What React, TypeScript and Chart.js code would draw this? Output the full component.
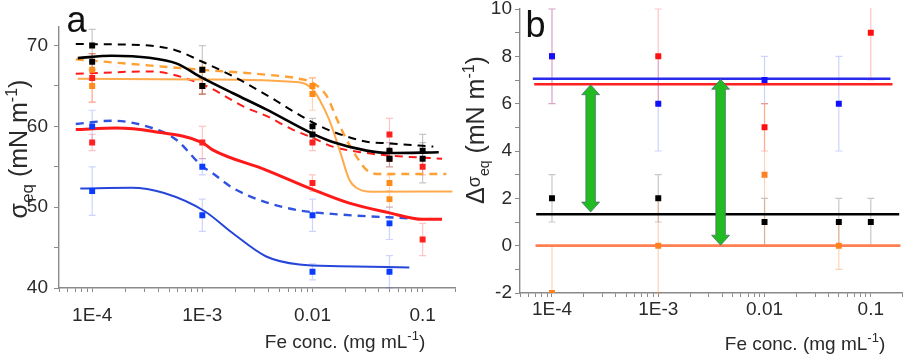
import React, { useEffect, useRef } from 'react';
import { Chart, registerables } from 'chart.js';

Chart.register(...registerables);

const FONT = '"Liberation Sans", Arial, Helvetica, sans-serif';
Chart.defaults.font.family = FONT;

// ---------- shared x axis ----------
const xMin = 5e-5;
const xMax = 0.2;
const xMajorTicks = [1e-4, 1e-3, 1e-2, 1e-1];
const xTickLabels = ['1E-4', '1E-3', '0.01', '0.1'];
const concentrations = [1e-4, 1e-3, 0.01, 0.05, 0.1];

// ---------- panel a: fitted curves [x, y] ----------
const blackSolidCurve: [number, number][] = [
  [7.4e-5, 68.45], [1.5e-4, 68.75], [3.3e-4, 68.5], [5.8e-4, 67.8], [1e-3, 66.0],
  [1.9e-3, 64.1], [3.8e-3, 62.1], [0.01, 59.1], [0.015, 58.1], [0.031, 57.0],
  [0.049, 56.7], [0.14, 56.8],
];
const blackDashedCurve: [number, number][] = [
  [7.1e-5, 70.2], [3.3e-4, 70.0], [5.8e-4, 69.4], [1e-3, 68.0], [1.9e-3, 66.2],
  [3.8e-3, 63.9], [0.01, 60.5], [0.015, 59.4], [0.031, 58.1], [0.049, 57.9], [0.125, 57.5],
];
const orangeSolidCurve: [number, number][] = [
  [7.4e-5, 65.9], [1e-3, 65.8], [7.6e-3, 65.45], [0.01, 64.6], [0.0116, 63.3],
  [0.0142, 60.8], [0.0176, 57.1], [0.0216, 53.4], [0.025, 52.4], [0.035, 51.9], [0.186, 51.95],
];
const orangeDashedCurve: [number, number][] = [
  [7.1e-5, 68.3], [1e-3, 67.0], [3.8e-3, 66.4], [7.6e-3, 65.9], [0.01, 65.4],
  [0.0134, 63.8], [0.0168, 60.8], [0.0203, 58.4], [0.025, 56.3], [0.031, 54.6],
  [0.0405, 54.1], [0.164, 54.1],
];
const redSolidCurve: [number, number][] = [
  [7.1e-5, 59.6], [1.66e-4, 59.8], [3.5e-4, 59.4], [1e-3, 58.0], [1.24e-3, 57.1],
  [3.8e-3, 54.6], [0.01, 52.2], [0.0216, 50.5], [0.05, 49.3], [0.1, 48.5], [0.15, 48.5],
];
const redDashedCurve: [number, number][] = [
  [7.1e-5, 66.5], [3.3e-4, 66.8], [1e-3, 65.2], [2.5e-3, 62.3], [3.8e-3, 61.3],
  [6.6e-3, 59.6], [0.01, 58.6], [0.0152, 57.5], [0.031, 56.7], [0.049, 56.4], [0.15, 56.0],
];
const blueSolidCurve: [number, number][] = [
  [7.8e-5, 52.3], [2.26e-4, 52.4], [4.5e-4, 51.75], [1.05e-3, 49.5], [1.88e-3, 46.8],
  [3.8e-3, 43.9], [7.6e-3, 42.9], [0.0176, 42.7], [0.0757, 42.55],
];
const blueDashedCurve: [number, number][] = [
  [7.1e-5, 60.3], [1.53e-4, 60.7], [3.5e-4, 59.8], [5.8e-4, 58.35], [1e-3, 55.05],
  [1.24e-3, 54.2], [1.88e-3, 52.4], [3.8e-3, 50.6], [7.6e-3, 49.6], [0.0176, 49.1], [0.08, 48.6],
];

// ---------- panel a: measured points (per concentration) ----------
const blackHigh = [70, 67, 60, 57, 57];
const blackHighErr = [2, 3, 1, 1, 1];
const blackLow = [68, 65, 59, 56, 56];
const blackLowErr = [1, 1, 1, 1, 3];
const orangeHigh = [67, 67, 65, 53, null];
const orangeHighErr = [2, 1, 1, 1, null];
const orangeLow = [65, 65, 64, 51, null];
const orangeLowErr = [2, 1, 2, 1, null];
const redHigh = [66, 65, 58, 59, 55];
const redHighErr = [3, 1, 1, 2, 1];
const redLow = [58, 58, 53, 56, 46];
const redLowErr = [1, 2, 1, 1, 2];
const blueHigh = [60, 55, 49, 48, null];
const blueHighErr = [2, 1, 2, 2, null];
const blueLow = [52, 49, 42, 42, null];
const blueLowErr = [3, 2, 1, 2, null];

// ---------- panel b ----------
const diffBlue = [8, 6, 7, 6, null];
const diffBlueErr = [2, 2, 1, 2, null];
const diffRed = [8, 8, 5, null, 9];
const diffRedErr = [2, 2, 1, null, 2];
const diffOrange = [-2, 0, 3, 0, null];
const diffOrangeErr = [2, 2, 3, 1, null];
const diffBlack = [2, 2, 1, 1, 1];
const diffBlackErr = [1, 1, 1, 1, 1];

const fitBlueLevel = 7.05;
const fitRedLevel = 6.82;
const fitBlackLevel = 1.33;
const fitOrangeLevel = 0.0;
const fitBlueRange = [6.6e-5, 0.153];
const fitRedRange = [6.8e-5, 0.16];
const fitBlackRange = [7.1e-5, 0.185];
const fitOrangeRange = [7.0e-5, 0.19];

const arrowConc = [2.31e-4, 3.86e-3];
const arrowFrom = [6.8, 7.03];
const arrowTo = [1.42, 0.02];

// ---------- helpers ----------
function logTickValues(): number[] {
  const out: number[] = [];
  for (let e = -5; e <= 0; e++) {
    for (let m = 1; m <= 9; m++) {
      const v = Number((m * Math.pow(10, e)).toPrecision(6));
      if (v >= xMin * (1 - 1e-9) && v <= xMax * (1 + 1e-9)) out.push(v);
    }
  }
  return out;
}
function xLabel(v: number): string {
  const i = xMajorTicks.findIndex((m) => Math.abs(Math.log10(v) - Math.log10(m)) < 1e-6);
  return i >= 0 ? xTickLabels[i] : '';
}
function curveData(c: [number, number][]) {
  return c.map(([x, y]) => ({ x, y }));
}
function pointData(vals: (number | null)[]) {
  const out: { x: number; y: number }[] = [];
  vals.forEach((v, i) => { if (v != null) out.push({ x: concentrations[i], y: v }); });
  return out;
}
function errData(vals: (number | null)[], errs: (number | null)[]) {
  const out: number[] = [];
  vals.forEach((v, i) => { if (v != null) out.push(errs[i] as number); });
  return out;
}
function curveDs(c: [number, number][], color: string, width: number, dashed: boolean) {
  return {
    data: curveData(c), borderColor: color, borderWidth: width, borderDash: dashed ? [8, 6] : [],
    pointRadius: 0, showLine: true, fill: false, cubicInterpolationMode: 'monotone', order: 2,
  };
}
function pointsDs(vals: (number | null)[], errs: (number | null)[], color: string, errColor: string, order = 1) {
  return {
    data: pointData(vals), errorBars: errData(vals, errs), errorColor: errColor,
    showLine: false, pointStyle: 'rect', pointRadius: 4.2, backgroundColor: color,
    borderColor: color, borderWidth: 0, order,
  };
}
function levelDs(level: number, range: number[], color: string) {
  return {
    data: [{ x: range[0], y: level }, { x: range[1], y: level }], borderColor: color,
    borderWidth: 2.6, pointRadius: 0, showLine: true, fill: false, order: 3,
  };
}

type Seg = { t: string; size: number; dy?: number };
function drawSegs(ctx: CanvasRenderingContext2D, segs: Seg[], x: number, y: number) {
  let total = 0;
  segs.forEach((s) => { ctx.font = `${s.size}px ${FONT}`; total += ctx.measureText(s.t).width; });
  let cx = x - total / 2;
  segs.forEach((s) => {
    ctx.font = `${s.size}px ${FONT}`;
    ctx.fillText(s.t, cx, y + (s.dy || 0));
    cx += ctx.measureText(s.t).width;
  });
}

const errorBarPlugin = {
  id: 'errorBars',
  beforeDatasetsDraw(chart: any) {
    const ctx = chart.ctx as CanvasRenderingContext2D;
    const ys = chart.scales.y;
    const a = chart.chartArea;
    ctx.save();
    ctx.beginPath();
    ctx.rect(a.left, a.top - 1, a.right - a.left, a.bottom - a.top + 2);
    ctx.clip();
    chart.data.datasets.forEach((ds: any, i: number) => {
      if (!ds.errorBars) return;
      const meta = chart.getDatasetMeta(i);
      meta.data.forEach((pt: any, j: number) => {
        const e = ds.errorBars[j];
        const v = ds.data[j].y;
        if (e == null) return;
        const y1 = ys.getPixelForValue(v + e);
        const y2 = ys.getPixelForValue(v - e);
        const x = pt.x;
        ctx.strokeStyle = ds.errorColor;
        ctx.lineWidth = 1.2;
        ctx.beginPath();
        ctx.moveTo(x, y1); ctx.lineTo(x, y2);
        ctx.moveTo(x - 3.5, y1); ctx.lineTo(x + 3.5, y1);
        ctx.moveTo(x - 3.5, y2); ctx.lineTo(x + 3.5, y2);
        ctx.stroke();
      });
    });
    ctx.restore();
  },
};

function xAxis(height: number, pad: number) {
  return {
    type: 'logarithmic', min: xMin, max: xMax,
    afterBuildTicks: (s: any) => { s.ticks = logTickValues().map((v) => ({ value: v })); },
    afterFit: (s: any) => { s.height = height; s.paddingLeft = 0; s.paddingRight = 0; },
    ticks: {
      autoSkip: false, maxRotation: 0, minRotation: 0, padding: pad, color: '#2a2a2a',
      font: { size: 19, family: FONT }, callback: (v: any) => xLabel(Number(v)),
    },
    grid: { drawOnChartArea: false, drawTicks: true, tickLength: 4, tickColor: '#8a8a8a', tickWidth: 1 },
    border: { display: true, color: '#8a8a8a', width: 1.4 },
  };
}
function yAxis(min: number, max: number, step: number, labelEvery: number, width: number, pad: number) {
  return {
    type: 'linear', min, max,
    afterBuildTicks: (s: any) => {
      const t: { value: number }[] = [];
      for (let v = Math.ceil(min / step - 1e-9) * step; v <= max + 1e-9; v += step) {
        t.push({ value: Number(v.toFixed(6)) });
      }
      s.ticks = t;
    },
    afterFit: (s: any) => { s.width = width; s.paddingTop = 0; s.paddingBottom = 0; },
    ticks: {
      autoSkip: false, stepSize: step, padding: pad, color: '#2a2a2a', font: { size: 19, family: FONT },
      callback: (v: any) => (Math.abs(Number(v) / labelEvery - Math.round(Number(v) / labelEvery)) < 1e-6 ? String(v) : ''),
    },
    grid: { drawOnChartArea: false, drawTicks: true, tickLength: 5, tickColor: '#8a8a8a', tickWidth: 1 },
    border: { display: true, color: '#8a8a8a', width: 1.4 },
  };
}

function buildA(): any {
  const textPlugin = {
    id: 'textA',
    afterDraw(chart: any) {
      const ctx = chart.ctx as CanvasRenderingContext2D;
      ctx.save();
      ctx.fillStyle = '#111';
      ctx.textBaseline = 'alphabetic';
      ctx.textAlign = 'left';
      ctx.font = `36px ${FONT}`;
      ctx.fillText('a', 66.5, 31.5);
      ctx.fillStyle = '#2a2a2a';
      drawSegs(ctx, [{ t: 'Fe conc. (mg mL', size: 19 }, { t: '-1', size: 13, dy: -8 }, { t: ')', size: 19 }], 345, 348);
      ctx.translate(27, 149);
      ctx.rotate(-Math.PI / 2);
      drawSegs(ctx, [
        { t: 'σ', size: 25 }, { t: 'eq', size: 17, dy: 6 }, { t: ' (mN m', size: 25 },
        { t: '-1', size: 16, dy: -10 }, { t: ')', size: 25 },
      ], 0, 0);
      ctx.restore();
    },
  };
  return {
    type: 'line',
    data: {
      datasets: [
        pointsDs(blackHigh, blackHighErr, '#000000', 'rgba(0,0,0,0.22)', 0),
        pointsDs(blackLow, blackLowErr, '#000000', 'rgba(0,0,0,0.22)', 0),
        pointsDs(orangeHigh, orangeHighErr, '#ff8c1a', 'rgba(255,130,40,0.35)'),
        pointsDs(orangeLow, orangeLowErr, '#ff8c1a', 'rgba(255,130,40,0.35)'),
        pointsDs(redHigh, redHighErr, '#ff2020', 'rgba(255,60,60,0.3)'),
        pointsDs(redLow, redLowErr, '#ff2020', 'rgba(255,60,60,0.3)'),
        pointsDs(blueHigh, blueHighErr, '#0a3cff', 'rgba(60,80,255,0.25)'),
        pointsDs(blueLow, blueLowErr, '#0a3cff', 'rgba(60,80,255,0.25)'),
        curveDs(blackSolidCurve, '#000000', 2.6, false),
        curveDs(blackDashedCurve, '#000000', 2, true),
        curveDs(orangeSolidCurve, '#ffaa4d', 2, false),
        curveDs(orangeDashedCurve, '#ffa033', 2.4, true),
        curveDs(redSolidCurve, '#ff1a1a', 3, false),
        curveDs(redDashedCurve, '#ff1a1a', 2, true),
        curveDs(blueSolidCurve, '#2546d9', 2, false),
        curveDs(blueDashedCurve, '#2f52e0', 2.4, true),
      ],
    },
    options: {
      responsive: false, devicePixelRatio: 1, animation: false, events: [],
      layout: { padding: { top: 27, right: 4, left: 0, bottom: 0 } },
      plugins: { legend: { display: false }, tooltip: { enabled: false } },
      scales: { x: xAxis(68, 12), y: yAxis(40, 72.3, 5, 10, 59, 6) },
    },
    plugins: [errorBarPlugin, textPlugin],
  };
}

function buildB(): any {
  const arrowPlugin = {
    id: 'arrowsB',
    afterDatasetsDraw(chart: any) {
      const ctx = chart.ctx as CanvasRenderingContext2D;
      const xs = chart.scales.x;
      const ys = chart.scales.y;
      ctx.save();
      arrowConc.forEach((c, i) => {
        const x = xs.getPixelForValue(c);
        const yT = ys.getPixelForValue(arrowFrom[i]);
        const yB = ys.getPixelForValue(arrowTo[i]);
        const sw = 4.8, hw = 9, hl = 10;
        ctx.beginPath();
        ctx.moveTo(x, yT);
        ctx.lineTo(x + hw, yT + hl); ctx.lineTo(x + sw, yT + hl);
        ctx.lineTo(x + sw, yB - hl); ctx.lineTo(x + hw, yB - hl);
        ctx.lineTo(x, yB);
        ctx.lineTo(x - hw, yB - hl); ctx.lineTo(x - sw, yB - hl);
        ctx.lineTo(x - sw, yT + hl); ctx.lineTo(x - hw, yT + hl);
        ctx.closePath();
        ctx.fillStyle = '#22bb22';
        ctx.fill();
        ctx.strokeStyle = 'rgba(80,100,120,0.7)';
        ctx.lineWidth = 1;
        ctx.stroke();
      });
      ctx.restore();
    },
  };
  const textPlugin = {
    id: 'textB',
    afterDraw(chart: any) {
      const ctx = chart.ctx as CanvasRenderingContext2D;
      ctx.save();
      ctx.fillStyle = '#111';
      ctx.textBaseline = 'alphabetic';
      ctx.textAlign = 'left';
      ctx.font = `36px ${FONT}`;
      ctx.fillText('b', 65.5, 36.5);
      ctx.fillStyle = '#2a2a2a';
      drawSegs(ctx, [{ t: 'Fe conc. (mg mL', size: 19 }, { t: '-1', size: 13, dy: -8 }, { t: ')', size: 19 }], 345, 350);
      ctx.translate(24, 130);
      ctx.rotate(-Math.PI / 2);
      drawSegs(ctx, [
        { t: 'Δ', size: 25 }, { t: 'σ', size: 18, dy: -4 }, { t: 'eq', size: 14, dy: 5 },
        { t: ' (mN m', size: 25 }, { t: '-1', size: 16, dy: -10 }, { t: ')', size: 25 },
      ], 0, 0);
      ctx.restore();
    },
  };
  return {
    type: 'line',
    data: {
      datasets: [
        pointsDs(diffBlack, diffBlackErr, '#000000', 'rgba(0,0,0,0.22)', 0),
        pointsDs(diffBlue, diffBlueErr, '#1010ff', 'rgba(60,80,255,0.25)', 0),
        pointsDs(diffRed, diffRedErr, '#ff1010', 'rgba(255,60,60,0.3)'),
        pointsDs(diffOrange, diffOrangeErr, '#ff8020', 'rgba(255,130,40,0.35)'),
        levelDs(fitBlueLevel, fitBlueRange, '#2a2aee'),
        levelDs(fitRedLevel, fitRedRange, '#ff2020'),
        levelDs(fitBlackLevel, fitBlackRange, '#000000'),
        levelDs(fitOrangeLevel, fitOrangeRange, '#ff7f50'),
      ],
    },
    options: {
      responsive: false, devicePixelRatio: 1, animation: false, events: [],
      layout: { padding: { top: 9, right: 2, left: 0, bottom: 0 } },
      plugins: { legend: { display: false }, tooltip: { enabled: false } },
      scales: { x: xAxis(63, 1), y: yAxis(-2, 10, 1, 2, 60, 3) },
    },
    plugins: [errorBarPlugin, arrowPlugin, textPlugin],
  };
}

function ChartCanvas({ left, width, build }: { left: number; width: number; build: () => any }) {
  const ref = useRef<HTMLCanvasElement>(null);
  useEffect(() => {
    const chart = new Chart(ref.current as HTMLCanvasElement, build());
    return () => chart.destroy();
  }, []);
  return (
    <canvas
      ref={ref}
      width={width}
      height={356}
      style={{ position: 'absolute', left, top: 0, width, height: 356 }}
    />
  );
}

export default function App() {
  return (
    <div style={{ position: 'fixed', left: 0, top: 0, width: 907, height: 356, background: '#ffffff', overflow: 'hidden' }}>
      <ChartCanvas left={0} width={460} build={buildA} />
      <ChartCanvas left={460} width={447} build={buildB} />
    </div>
  );
}
